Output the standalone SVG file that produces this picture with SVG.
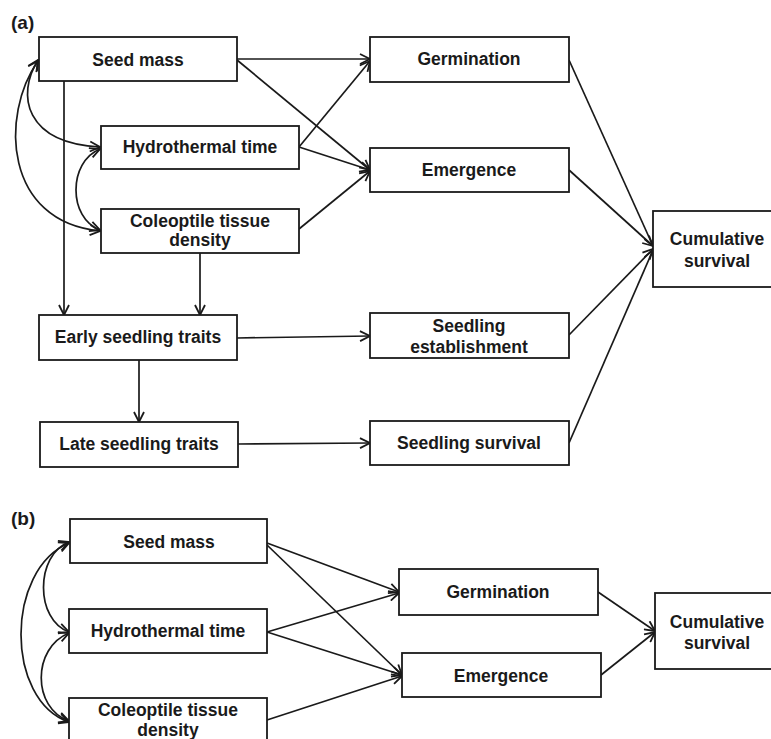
<svg xmlns="http://www.w3.org/2000/svg" width="771" height="739" viewBox="0 0 771 739">
<style>
.box{fill:#fff;stroke:#1a1a1a;stroke-width:1.8}
.t{font-family:"Liberation Sans",Arial,sans-serif;font-weight:bold;font-size:17.5px;fill:#1a1a1a;text-anchor:middle}
.lbl{font-family:"Liberation Sans",Arial,sans-serif;font-weight:bold;font-size:19px;fill:#1a1a1a}
.c{fill:none;stroke:#1a1a1a;stroke-width:1.7}
</style>
<defs>
<marker id="ah" viewBox="0 0 12 12" refX="11" refY="6" markerWidth="12" markerHeight="12" markerUnits="userSpaceOnUse" orient="auto-start-reverse">
<path d="M1,1 L11,6 L1,11" fill="none" stroke="#1a1a1a" stroke-width="1.8"/>
</marker>
</defs>
<rect width="771" height="739" fill="#fff"/>
<text class="lbl" x="11" y="29">(a)</text>
<text class="lbl" x="11" y="525">(b)</text>
<g id="connectors-a">
<line class="c" x1="237" y1="59" x2="370" y2="59" marker-end="url(#ah)"/>
<line class="c" x1="237" y1="60" x2="370" y2="170" marker-end="url(#ah)"/>
<line class="c" x1="299" y1="147" x2="370" y2="61" marker-end="url(#ah)"/>
<line class="c" x1="299" y1="147" x2="370" y2="170" marker-end="url(#ah)"/>
<line class="c" x1="299" y1="229" x2="370" y2="171" marker-end="url(#ah)"/>
<line class="c" x1="569" y1="60" x2="653" y2="246" marker-end="url(#ah)"/>
<line class="c" x1="569" y1="170" x2="653" y2="246" marker-end="url(#ah)"/>
<line class="c" x1="569" y1="335" x2="653" y2="249" marker-end="url(#ah)"/>
<line class="c" x1="569" y1="443" x2="653" y2="250" marker-end="url(#ah)"/>
<line class="c" x1="64" y1="81" x2="64" y2="315" marker-end="url(#ah)"/>
<line class="c" x1="200" y1="253" x2="200" y2="315" marker-end="url(#ah)"/>
<line class="c" x1="139" y1="360" x2="139" y2="422" marker-end="url(#ah)"/>
<line class="c" x1="237" y1="338" x2="370" y2="336" marker-end="url(#ah)"/>
<line class="c" x1="238" y1="444" x2="370" y2="443" marker-end="url(#ah)"/>
<path class="c" d="M38,60 C16,95 25,143 100,147" marker-start="url(#ah)" marker-end="url(#ah)"/>
<path class="c" d="M38,61 C0,115 4,222 100,231" marker-start="url(#ah)" marker-end="url(#ah)"/>
<path class="c" d="M100,149 C68,162 68,218 100,230" marker-start="url(#ah)" marker-end="url(#ah)"/>
</g>
<g id="connectors-b">
<line class="c" x1="267" y1="543" x2="399" y2="592" marker-end="url(#ah)"/>
<line class="c" x1="267" y1="545" x2="402" y2="675" marker-end="url(#ah)"/>
<line class="c" x1="267" y1="632" x2="399" y2="593" marker-end="url(#ah)"/>
<line class="c" x1="267" y1="632" x2="402" y2="675" marker-end="url(#ah)"/>
<line class="c" x1="267" y1="720" x2="402" y2="676" marker-end="url(#ah)"/>
<line class="c" x1="598" y1="592" x2="655" y2="631" marker-end="url(#ah)"/>
<line class="c" x1="601" y1="675" x2="655" y2="632" marker-end="url(#ah)"/>
<path class="c" d="M69,542 C35,555 35,620 69,632" marker-start="url(#ah)" marker-end="url(#ah)"/>
<path class="c" d="M69,543 C5,570 5,700 69,722" marker-start="url(#ah)" marker-end="url(#ah)"/>
<path class="c" d="M69,633 C32,648 32,708 69,721" marker-start="url(#ah)" marker-end="url(#ah)"/>
</g>
<g id="a-seed-mass"><rect class="box" x="39" y="37" width="198" height="44"/><text class="t" x="138" y="66">Seed mass</text></g>
<g id="a-hydrothermal"><rect class="box" x="101" y="126" width="198" height="43"/><text class="t" x="200" y="153">Hydrothermal time</text></g>
<g id="a-coleoptile"><rect class="box" x="101" y="209" width="198" height="44"/><text class="t" x="200" y="227">Coleoptile tissue</text><text class="t" x="200" y="246">density</text></g>
<g id="a-germination"><rect class="box" x="370" y="37" width="199" height="45"/><text class="t" x="469" y="65">Germination</text></g>
<g id="a-emergence"><rect class="box" x="370" y="148" width="199" height="44"/><text class="t" x="469" y="176">Emergence</text></g>
<g id="a-cumulative"><rect class="box" x="653" y="211" width="130" height="76"/><text class="t" x="717" y="245">Cumulative</text><text class="t" x="717" y="267">survival</text></g>
<g id="a-early"><rect class="box" x="39" y="315" width="198" height="45"/><text class="t" x="138" y="343">Early seedling traits</text></g>
<g id="a-late"><rect class="box" x="40" y="422" width="198" height="45"/><text class="t" x="139" y="450">Late seedling traits</text></g>
<g id="a-establishment"><rect class="box" x="370" y="313" width="199" height="45"/><text class="t" x="469" y="332">Seedling</text><text class="t" x="469" y="353">establishment</text></g>
<g id="a-survival"><rect class="box" x="370" y="421" width="199" height="44"/><text class="t" x="469" y="449">Seedling survival</text></g>
<g id="b-seed-mass"><rect class="box" x="70" y="519" width="197" height="44"/><text class="t" x="169" y="548">Seed mass</text></g>
<g id="b-hydrothermal"><rect class="box" x="69" y="609" width="198" height="44"/><text class="t" x="168" y="637">Hydrothermal time</text></g>
<g id="b-coleoptile"><rect class="box" x="69" y="698" width="198" height="50"/><text class="t" x="168" y="716">Coleoptile tissue</text><text class="t" x="168" y="736">density</text></g>
<g id="b-germination"><rect class="box" x="399" y="569" width="199" height="46"/><text class="t" x="498" y="598">Germination</text></g>
<g id="b-emergence"><rect class="box" x="402" y="653" width="199" height="44"/><text class="t" x="501" y="682">Emergence</text></g>
<g id="b-cumulative"><rect class="box" x="655" y="593" width="130" height="76"/><text class="t" x="717" y="628">Cumulative</text><text class="t" x="717" y="649">survival</text></g>
</svg>
